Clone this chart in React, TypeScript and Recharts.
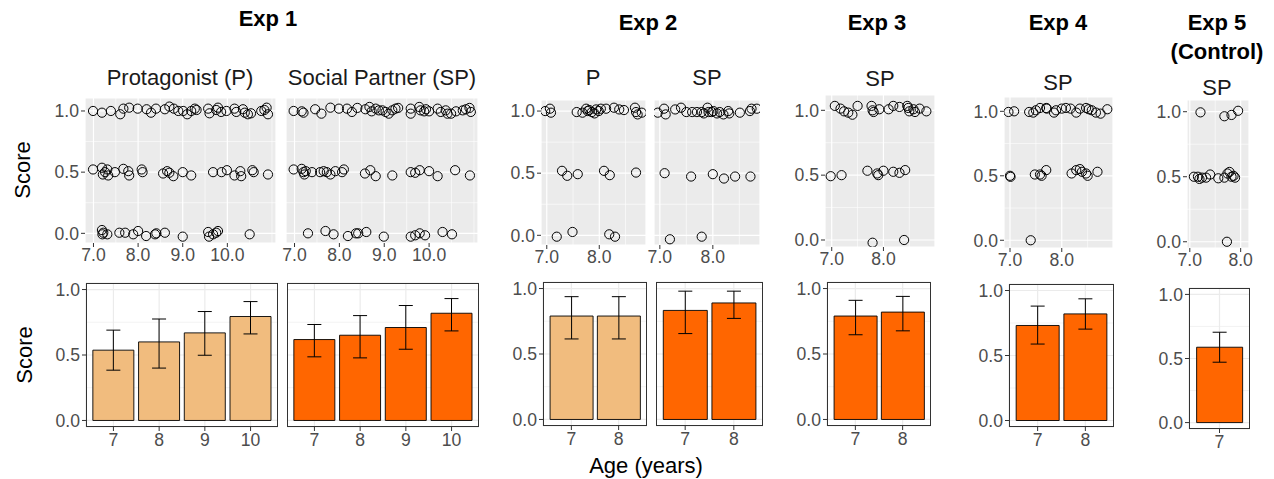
import React from "react";
import { ScatterChart, Scatter, BarChart, Bar, XAxis, YAxis, CartesianGrid, ErrorBar } from "recharts";

const FONT = "'Liberation Sans', Arial, Helvetica, sans-serif";
const LIGHT = "#F1BC7E";
const DARK = "#FF6600";

// individual scores, [age, score] (jittered as in the figure)
const exp1P: [number, number][] = [
  [6.99, 1.0], [7.19, 0.986], [7.39, 1.0], [7.6, 0.973], [7.67, 1.019], [7.8, 1.027], [7.99, 1.019], [8.19, 1.014],
  [8.29, 0.986], [8.4, 1.019], [8.6, 1.014], [8.7, 1.036], [8.8, 1.019], [8.9, 1.0], [9.01, 1.0], [9.1, 0.973],
  [9.19, 1.0], [9.27, 1.019], [9.31, 1.008], [9.57, 1.019], [9.6, 0.981], [9.75, 1.008], [9.79, 1.027], [9.86, 0.992],
  [9.98, 1.0], [10.16, 1.019], [10.2, 0.992], [10.35, 1.014], [10.39, 0.986], [10.46, 0.973], [10.53, 0.981],
  [10.76, 1.0], [10.83, 1.008], [10.88, 1.027], [10.91, 0.973],
  [6.99, 0.522], [7.19, 0.536], [7.21, 0.481], [7.26, 0.5], [7.31, 0.522], [7.33, 0.473], [7.48, 0.5], [7.67, 0.527],
  [7.78, 0.508], [7.8, 0.473], [8.08, 0.522], [8.1, 0.5], [8.56, 0.489], [8.65, 0.508], [8.7, 0.495], [8.79, 0.467],
  [9.0, 0.5], [9.19, 0.473], [9.68, 0.5], [9.87, 0.5], [9.99, 0.516], [10.16, 0.473], [10.29, 0.508], [10.31, 0.467],
  [10.56, 0.516], [10.59, 0.5], [10.91, 0.481],
  [7.19, 0.027], [7.2, -0.008], [7.22, 0.005], [7.31, -0.008], [7.58, 0.005], [7.71, 0.005], [7.89, -0.008],
  [8.0, 0.019], [8.18, -0.022], [8.38, -0.008], [8.41, 0.0], [8.6, 0.005], [9.0, -0.027], [9.57, 0.011],
  [9.59, -0.027], [9.68, -0.008], [9.75, 0.005], [9.79, 0.019], [10.5, -0.008],
];
const exp1SP: [number, number][] = [
  [6.98, 1.0], [7.16, 0.997], [7.2, 0.986], [7.46, 1.014], [7.6, 0.978], [7.8, 1.027], [7.99, 1.019], [8.17, 1.019],
  [8.28, 0.992], [8.4, 1.025], [8.58, 1.014], [8.67, 1.033], [8.72, 0.997], [8.81, 1.019], [8.88, 1.005], [8.96, 1.005],
  [9.03, 0.992], [9.1, 0.978], [9.18, 1.005], [9.25, 1.019], [9.31, 1.025], [9.59, 1.019], [9.59, 0.978], [9.78, 1.033],
  [9.81, 1.005], [9.89, 0.997], [9.93, 1.014], [10.0, 0.997], [10.19, 1.019], [10.26, 0.992], [10.37, 1.005],
  [10.41, 0.978], [10.49, 0.978], [10.6, 0.997], [10.75, 1.005], [10.82, 1.014], [10.9, 1.025], [10.93, 0.992],
  [6.98, 0.522], [7.16, 0.527], [7.2, 0.5], [7.22, 0.481], [7.25, 0.508], [7.39, 0.5], [7.57, 0.5], [7.65, 0.508],
  [7.72, 0.5], [7.8, 0.481], [7.91, 0.508], [8.06, 0.5], [8.1, 0.522], [8.57, 0.489], [8.69, 0.516], [8.81, 0.467],
  [9.18, 0.473], [9.59, 0.5], [9.69, 0.495], [9.79, 0.516], [10.0, 0.508], [10.19, 0.467], [10.58, 0.516], [10.91, 0.473],
  [7.3, 0.0], [7.69, 0.019], [7.87, -0.008], [8.19, -0.022], [8.37, 0.0], [8.42, 0.0], [8.6, 0.011], [8.99, -0.027],
  [9.59, -0.027], [9.69, -0.016], [9.79, 0.0], [9.91, -0.016], [10.3, 0.011], [10.51, -0.008],
];
const exp2P: [number, number][] = [
  [6.97, 1.0], [7.06, 1.019], [7.08, 0.987], [7.57, 0.992], [7.68, 0.987], [7.75, 1.019], [7.78, 1.0], [7.81, 1.008],
  [7.86, 0.992], [7.91, 0.981], [7.94, 1.013], [7.99, 1.0], [8.03, 1.019], [8.13, 1.019], [8.28, 1.027], [8.38, 1.013],
  [8.47, 1.008], [8.68, 1.027], [8.7, 0.992], [8.73, 0.973], [8.81, 0.987],
  [7.29, 0.519], [7.39, 0.479], [7.59, 0.492], [8.09, 0.519], [8.2, 0.484], [8.7, 0.505],
  [7.19, -0.011], [7.49, 0.027], [8.19, 0.008], [8.3, -0.011],
];
const exp2SP: [number, number][] = [
  [6.96, 0.987], [7.08, 1.019], [7.11, 0.973], [7.29, 1.013], [7.4, 1.027], [7.5, 0.992], [7.61, 0.992], [7.7, 0.992],
  [7.79, 0.992], [7.83, 0.981], [7.9, 1.027], [7.92, 0.992], [7.98, 0.992], [8.01, 1.0], [8.08, 0.981], [8.13, 0.992],
  [8.2, 0.973], [8.29, 1.0], [8.31, 0.981], [8.51, 0.987], [8.7, 1.0], [8.73, 1.019], [8.83, 1.019],
  [7.09, 0.5], [7.59, 0.473], [8.0, 0.492], [8.21, 0.457], [8.42, 0.473], [8.71, 0.473],
  [7.19, -0.032], [7.79, -0.011],
];
const exp3SP: [number, number][] = [
  [7.06, 1.034], [7.17, 1.013], [7.24, 0.992], [7.32, 0.982], [7.4, 0.966], [7.5, 1.034], [7.77, 1.034], [7.79, 1.0],
  [7.81, 0.987], [7.92, 1.008], [8.1, 1.008], [8.19, 1.034], [8.31, 1.026], [8.46, 1.034], [8.48, 1.018], [8.5, 0.992],
  [8.58, 1.008], [8.61, 0.987], [8.7, 1.013], [8.83, 0.992],
  [6.98, 0.492], [7.19, 0.5], [7.69, 0.534], [7.88, 0.513], [7.9, 0.5], [8.0, 0.534], [8.19, 0.526], [8.31, 0.518],
  [8.42, 0.539],
  [7.79, -0.021], [8.4, 0.0],
];
const exp4SP: [number, number][] = [
  [6.97, 0.995], [7.08, 1.0], [7.37, 0.995], [7.45, 0.99], [7.5, 1.008], [7.58, 1.026], [7.7, 1.026], [7.71, 1.021],
  [7.85, 0.99], [7.89, 1.008], [8.0, 1.021], [8.08, 1.026], [8.17, 1.021], [8.28, 0.99], [8.35, 1.021], [8.47, 1.026],
  [8.52, 1.016], [8.58, 1.008], [8.66, 0.99], [8.75, 0.982], [8.88, 1.016],
  [7.0, 0.5], [7.01, 0.492], [7.48, 0.51], [7.58, 0.51], [7.61, 0.5], [7.7, 0.544], [8.19, 0.518], [8.28, 0.544],
  [8.35, 0.552], [8.39, 0.531], [8.47, 0.518], [8.5, 0.5], [8.69, 0.531],
  [7.4, 0.0],
];
const exp5SP: [number, number][] = [
  [7.21, 0.995], [7.68, 0.965], [7.82, 0.975], [7.95, 1.007],
  [7.08, 0.5], [7.16, 0.5], [7.19, 0.483], [7.24, 0.493], [7.32, 0.493], [7.4, 0.517], [7.56, 0.488], [7.68, 0.493],
  [7.74, 0.525], [7.78, 0.537], [7.82, 0.5], [7.86, 0.507], [7.89, 0.493],
  [7.73, 0.0],
];

// tick / grid values
const scoreTicks = [0, 0.5, 1];
const scoreMinor = [0.25, 0.75];
const ageTicksWide = [7, 8, 9, 10];
const ageMinorWide = [7.5, 8.5, 9.5, 10.5, 11];
const ageTicksNarrow = [7, 8];
const ageMinorNarrow = [7.5, 8.5];
const ageMinorExp5 = [7.5];

// mean score by age group, with error bar ends
const ages4 = ["7", "8", "9", "10"];
const ages2 = ["7", "8"];
const ages1 = ["7"];
const e1pMean = [0.537, 0.6, 0.669, 0.794];
const e1pLow = [0.384, 0.4, 0.498, 0.661];
const e1pHigh = [0.69, 0.775, 0.832, 0.908];
const e1spMean = [0.618, 0.651, 0.71, 0.819];
const e1spLow = [0.486, 0.478, 0.544, 0.684];
const e1spHigh = [0.733, 0.801, 0.878, 0.931];
const e2pMean = [0.79, 0.79];
const e2pLow = [0.615, 0.615];
const e2pHigh = [0.938, 0.938];
const e2spMean = [0.833, 0.89];
const e2spLow = [0.656, 0.772];
const e2spHigh = [0.98, 0.98];
const e3Mean = [0.79, 0.82];
const e3Low = [0.647, 0.677];
const e3High = [0.91, 0.94];
const e4Mean = [0.731, 0.82];
const e4Low = [0.588, 0.703];
const e4High = [0.88, 0.936];
const e5Mean = [0.588];
const e5Low = [0.471];
const e5High = [0.705];

const tickStyle = { fill: "#4D4D4D", fontSize: 17.6, fontFamily: FONT };
const YW = 46;
const XH = 28;
const PAD = 14; // room for edge tick labels

const ring = (p: any) => <circle cx={p.cx} cy={p.cy} r={4.6} fill="none" stroke="#000" strokeWidth={1} />;

function ScatterPanel({ pts, left, top, w, h, xDomain, yDomain, xTicks, xMinor, showY }: any) {
  const yw = showY ? YW : 0;
  const ml = showY ? 0 : PAD;
  const data = pts.map(([age, score]: [number, number]) => ({ age, score }));
  return (
    <div style={{ position: "absolute", left: left - yw - ml, top: top - PAD }}>
      <ScatterChart width={w + yw + ml + PAD} height={h + XH + PAD} margin={{ top: PAD, right: PAD, bottom: 0, left: ml }}>
        <CartesianGrid fill="#EBEBEB" stroke="#FFFFFF" strokeWidth={0.6} horizontalValues={scoreMinor} verticalValues={xMinor} />
        <CartesianGrid stroke="#FFFFFF" strokeWidth={1.2} />
        <XAxis
          type="number"
          dataKey="age"
          domain={xDomain}
          allowDataOverflow
          ticks={xTicks}
          interval={0}
          height={XH}
          axisLine={false}
          tickSize={4}
          tickMargin={2}
          tickLine={{ stroke: "#333333" }}
          tick={tickStyle}
          tickFormatter={(v: number) => v.toFixed(1)}
        />
        <YAxis
          type="number"
          dataKey="score"
          domain={yDomain}
          allowDataOverflow
          ticks={scoreTicks}
          interval={0}
          width={yw}
          hide={!showY}
          axisLine={false}
          tickSize={4}
          tickMargin={2}
          tickLine={{ stroke: "#333333" }}
          tick={tickStyle}
          tickFormatter={(v: number) => v.toFixed(1)}
        />
        <Scatter data={data} dataKey="score" shape={ring} isAnimationActive={false} />
      </ScatterChart>
    </div>
  );
}

function BarPanel({ cats, mean, low, high, color, left, top, w, h, showY }: any) {
  const yw = showY ? YW : 0;
  const data = cats.map((c: string, i: number) => ({
    age: c,
    score: mean[i],
    err: [mean[i] - low[i], high[i] - mean[i]],
  }));
  const unit = w / (cats.length + 0.2);
  return (
    <div style={{ position: "absolute", left: left - yw, top: top - PAD }}>
      <BarChart
        width={w + yw}
        height={h + XH + PAD}
        data={data}
        margin={{ top: PAD, right: 0, bottom: 0, left: 0 }}
        barCategoryGap="5%"
      >
        <CartesianGrid stroke="#EBEBEB" strokeWidth={0.6} horizontalValues={scoreMinor} vertical={false} />
        <CartesianGrid stroke="#EBEBEB" strokeWidth={1.2} />
        <XAxis
          dataKey="age"
          height={XH}
          padding={{ left: unit * 0.1, right: unit * 0.1 }}
          axisLine={false}
          tickSize={4}
          tickMargin={3}
          tickLine={{ stroke: "#333333" }}
          tick={tickStyle}
          interval={0}
        />
        <YAxis
          type="number"
          domain={[-0.05, 1.05]}
          allowDataOverflow
          ticks={scoreTicks}
          interval={0}
          width={yw}
          hide={!showY}
          axisLine={false}
          tickSize={4}
          tickMargin={2}
          tickLine={{ stroke: "#333333" }}
          tick={tickStyle}
          tickFormatter={(v: number) => v.toFixed(1)}
        />
        <Bar dataKey="score" fill={color} stroke="#000" strokeWidth={0.9} isAnimationActive={false}>
          <ErrorBar dataKey="err" width={7} stroke="#000" strokeWidth={1} direction="y" />
        </Bar>
      </BarChart>
      <div
        style={{
          position: "absolute",
          left: yw,
          top: PAD,
          width: w,
          height: h,
          border: "1px solid #333333",
          boxSizing: "border-box",
          pointerEvents: "none",
        }}
      />
    </div>
  );
}

const titles = [
  { text: "Exp 1", x: 268, y: 26 },
  { text: "Exp 2", x: 648, y: 30 },
  { text: "Exp 3", x: 877, y: 30 },
  { text: "Exp 4", x: 1058, y: 30 },
  { text: "Exp 5", x: 1217, y: 30 },
  { text: "(Control)", x: 1217, y: 59 },
];
const strips = [
  { text: "Protagonist (P)", x: 180, y: 85 },
  { text: "Social Partner (SP)", x: 382, y: 85 },
  { text: "P", x: 593, y: 85 },
  { text: "SP", x: 707, y: 85 },
  { text: "SP", x: 880, y: 86 },
  { text: "SP", x: 1058, y: 90 },
  { text: "SP", x: 1217, y: 95 },
];

export default function App() {
  const wide = { xDomain: [6.81, 11.09], yDomain: [-0.079, 1.106], xTicks: ageTicksWide, xMinor: ageMinorWide };
  const narrow2 = { xDomain: [6.89, 8.89], yDomain: [-0.078, 1.089], xTicks: ageTicksNarrow, xMinor: ageMinorNarrow };
  return (
    <div style={{ position: "absolute", left: 0, top: 0, width: 1274, height: 479, background: "#fff", fontFamily: FONT }}>
      <ScatterPanel pts={exp1P} left={85} top={98} w={191} h={145} showY {...wide} />
      <ScatterPanel pts={exp1SP} left={286} top={98} w={192} h={145} showY={false} {...wide} />
      <ScatterPanel pts={exp2P} left={541} top={100} w={105} h={145} showY {...narrow2} />
      <ScatterPanel pts={exp2SP} left={654} top={100} w={106} h={145} showY={false} {...narrow2} />
      <ScatterPanel
        pts={exp3SP} left={825} top={95} w={110} h={152} showY
        xDomain={[6.87, 8.997]} yDomain={[-0.054, 1.118]} xTicks={ageTicksNarrow} xMinor={ageMinorNarrow}
      />
      <ScatterPanel
        pts={exp4SP} left={1004} top={97} w={109} h={151} showY
        xDomain={[6.884, 8.99]} yDomain={[-0.06, 1.111]} xTicks={ageTicksNarrow} xMinor={ageMinorNarrow}
      />
      <ScatterPanel
        pts={exp5SP} left={1187} top={100} w={62} h={148} showY
        xDomain={[6.945, 8.164]} yDomain={[-0.048, 1.09]} xTicks={ageTicksNarrow} xMinor={ageMinorExp5}
      />

      <BarPanel cats={ages4} mean={e1pMean} low={e1pLow} high={e1pHigh} color={LIGHT} left={86} top={283} w={192} h={144} showY />
      <BarPanel cats={ages4} mean={e1spMean} low={e1spLow} high={e1spHigh} color={DARK} left={287} top={283} w={192} h={144} showY={false} />
      <BarPanel cats={ages2} mean={e2pMean} low={e2pLow} high={e2pHigh} color={LIGHT} left={543} top={282} w={104} h={144} showY />
      <BarPanel cats={ages2} mean={e2spMean} low={e2spLow} high={e2spHigh} color={DARK} left={656} top={282} w={107} h={144} showY={false} />
      <BarPanel cats={ages2} mean={e3Mean} low={e3Low} high={e3High} color={DARK} left={827} top={282} w={104} h={144} showY />
      <BarPanel cats={ages2} mean={e4Mean} low={e4Low} high={e4High} color={DARK} left={1009} top={284} w={105} h={143} showY />
      <BarPanel cats={ages1} mean={e5Mean} low={e5Low} high={e5High} color={DARK} left={1189} top={288} w={61} h={141} showY />

      <svg width={1274} height={479} style={{ position: "absolute", left: 0, top: 0, pointerEvents: "none" }}>
        {titles.map((t, i) => (
          <text key={"t" + i} x={t.x} y={t.y} textAnchor="middle" fontSize={22} fontWeight="bold" fontFamily={FONT} fill="#000">
            {t.text}
          </text>
        ))}
        {strips.map((t, i) => (
          <text key={"s" + i} x={t.x} y={t.y} textAnchor="middle" fontSize={22} fontFamily={FONT} fill="#1A1A1A">
            {t.text}
          </text>
        ))}
        <text x={30} y={170} transform="rotate(-90 30 170)" textAnchor="middle" fontSize={22} fontFamily={FONT} fill="#000">
          Score
        </text>
        <text x={32} y={355} transform="rotate(-90 32 355)" textAnchor="middle" fontSize={22} fontFamily={FONT} fill="#000">
          Score
        </text>
        <text x={646} y={473} textAnchor="middle" fontSize={22} fontFamily={FONT} fill="#000">
          Age (years)
        </text>
      </svg>
    </div>
  );
}
